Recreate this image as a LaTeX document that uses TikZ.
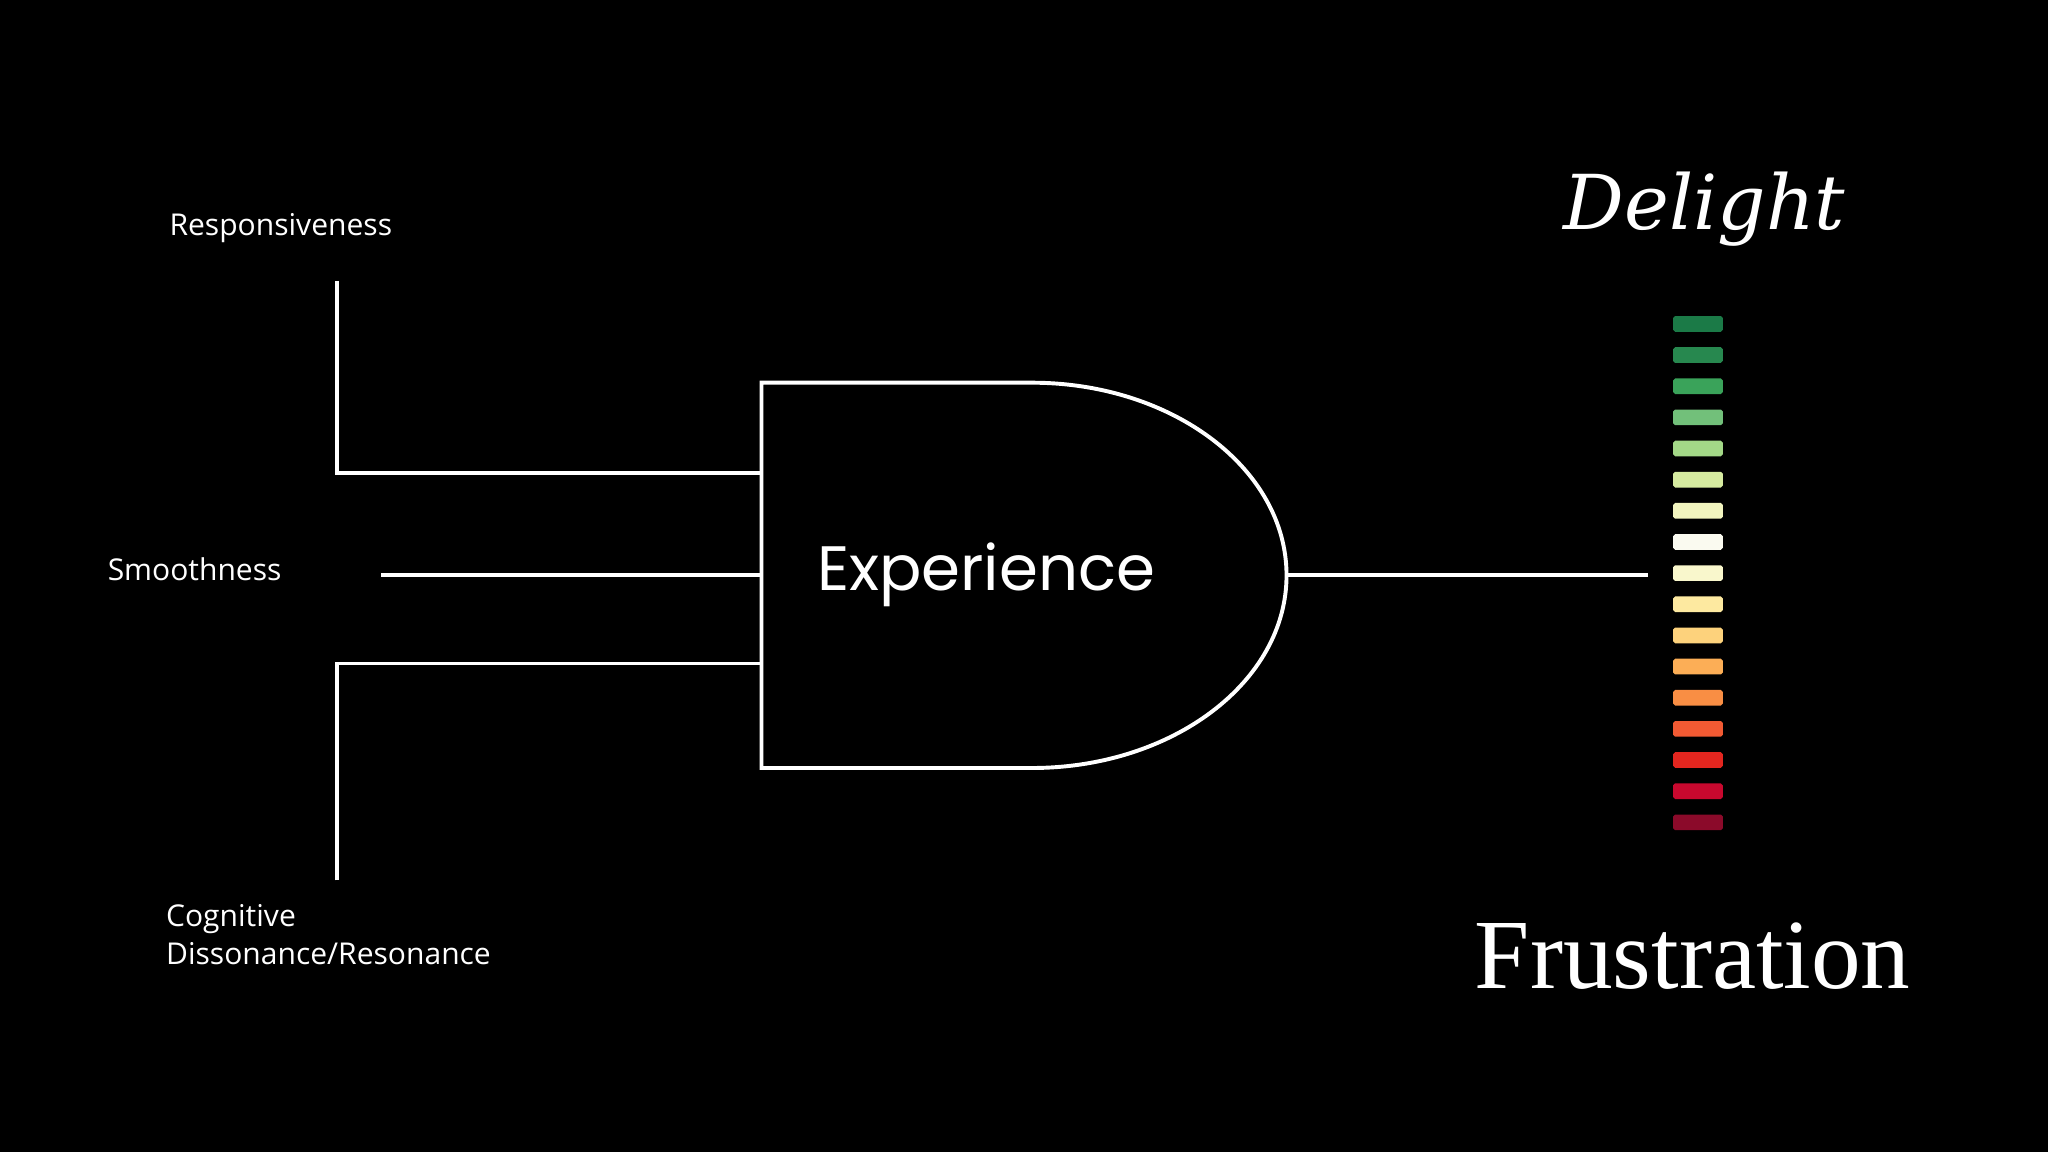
\documentclass[tikz,border=0pt]{standalone}
\usepackage{fontspec}
\setmainfont{Open Sans}
\newfontfamily\gatefont{Poppins}
\newfontfamily\titlefont{Liberation Serif}
\newfontfamily\scriptf{DejaVu Serif}
\begin{document}
\begin{tikzpicture}[x=1pt,y=-1pt,
  wire/.style={draw=white,line width=3pt},
  lab/.style={text=white,font=\fontsize{23}{29}\selectfont,inner sep=0pt},
  bar/.style={rounded corners=1.5pt}]
\fill[black] (0,0) rectangle (1568,882);
\useasboundingbox (0,0) rectangle (1568,882);
\node[lab] (resp) at (215,175) {Responsiveness};
\node[lab] (smooth) at (149,436) {Smoothness};
\node[lab,anchor=north west,align=left] (cog) at (127,692) {Cognitive\\Dissonance/Resonance};
\coordinate (r0) at (258,215); \coordinate (r1) at (258,362); \coordinate (r2) at (583,362);
\coordinate (s0) at (292,440); \coordinate (s1) at (583,440);
\coordinate (c0) at (258,674); \coordinate (c1) at (258,508); \coordinate (c2) at (583,508);
\draw[wire] (r0) -- (r1) -- (r2);
\draw[wire] (s0) -- (s1);
\draw[wire] (c0) -- (c1) -- (c2);
\draw[wire,line join=miter] (790,293) -- (583,293) -- (583,588) -- (790,588) arc[start angle=90,end angle=-90,x radius=195,y radius=147.5];
\node[text=white,font=\gatefont\fontsize{48}{52}\selectfont,inner sep=0pt] (gate) at (755,440) {Experience};
\coordinate (out0) at (985,440); \coordinate (out1) at (1262,440);
\draw[wire] (out0) -- (out1);
\foreach \c [count=\i from 0] in {1B7A47,27884F,3AA35A,72C07A,A3D887,D6EBA0,F2F5BF,FAFAF0,F9F7CC,FDE9A0,FDD27C,FCAE56,F98E44,F25A33,E3261F,C8082E,8B0A2A}{
  \definecolor{bc}{HTML}{\c}
  \fill[bc,bar] (1281,{242+23.85*\i}) rectangle (1319,{254+23.85*\i});
}
\node[text=white,font=\scriptf\itshape\fontsize{58}{60}\selectfont,inner sep=0pt] (del) at (1305,160) {Delight};
\node[text=white,font=\titlefont\fontsize{76}{80}\selectfont,inner sep=0pt] (fru) at (1296,732) {Frustration};
\end{tikzpicture}
\end{document}
